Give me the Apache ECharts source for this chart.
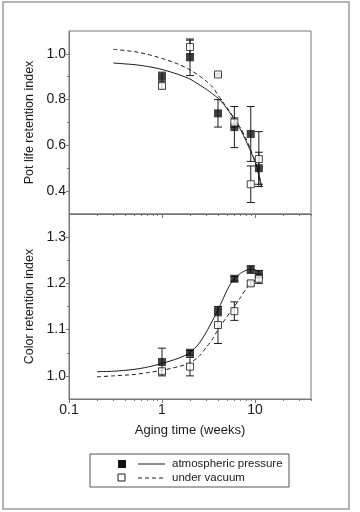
<!DOCTYPE html>
<html>
<head>
<meta charset="utf-8">
<title>Retention index vs aging time</title>
<script src="https://cdn.jsdelivr.net/npm/echarts@6/dist/echarts.min.js"></script>
<style>
  html, body { margin: 0; padding: 0; background: #fff; }
  #chart { width: 360px; height: 512px; }
</style>
</head>
<body>
<div id="chart"></div>
<script>
    // measured points (weeks of aging)
    var weeks = [1, 2, 4, 6, 9, 11];
    var potAtm = [0.90, 0.985, 0.74, 0.68, 0.65, 0.50];
    var potAtmErr = [0.02, 0.08, 0.06, 0.09, 0.12, 0.07];
    var potVac = [0.86, 1.03, 0.91, 0.70, 0.43, 0.54];
    var potVacErr = [0.01, 0.03, 0.005, 0.02, 0.08, 0.12];
    var colorAtm = [1.03, 1.05, 1.14, 1.21, 1.23, 1.22];
    var colorAtmErr = [0.03, 0.005, 0.01, 0.005, 0.008, 0.008];
    var colorVac = [1.01, 1.02, 1.11, 1.14, 1.20, 1.21];
    var colorVacErr = [0.005, 0.02, 0.04, 0.02, 0.005, 0.01];

    // fitted curves
    var potFitWeeks = [0.3, 0.5, 0.7, 1, 1.5, 2, 2.5, 3, 3.5, 4, 4.5, 5, 6, 7, 8, 9, 10, 11, 11.8];
    var potAtmFit = [0.96, 0.953, 0.945, 0.932, 0.91, 0.89, 0.866, 0.845, 0.825, 0.806, 0.785, 0.76, 0.715, 0.668, 0.62, 0.572, 0.53, 0.475, 0.42];
    var potVacFit = [1.02, 1.01, 0.998, 0.98, 0.955, 0.93, 0.905, 0.88, 0.855, 0.82, 0.79, 0.765, 0.717, 0.675, 0.63, 0.58, 0.53, 0.47, 0.41];
    var colorFitWeeks = [0.2, 0.3, 0.5, 0.7, 1, 1.5, 2, 2.5, 3, 3.5, 4, 4.5, 5, 5.5, 6, 7, 8, 9, 10, 11];
    var colorAtmFit = [1.009, 1.01, 1.014, 1.019, 1.027, 1.038, 1.05, 1.07, 1.095, 1.12, 1.143, 1.165, 1.185, 1.2, 1.21, 1.222, 1.228, 1.23, 1.229, 1.226];
    var colorVacFit = [0.998, 1.0, 1.003, 1.007, 1.012, 1.02, 1.028, 1.042, 1.062, 1.08, 1.10, 1.115, 1.128, 1.14, 1.15, 1.17, 1.188, 1.20, 1.207, 1.212];

    // ticks
    var xMajorTicks = [0.1, 1, 10];
    var xMinorTicks = [0.2, 0.3, 0.4, 0.5, 0.6, 0.7, 0.8, 0.9, 2, 3, 4, 5, 6, 7, 8, 9, 20, 30, 40];
    var potTicks = [0.4, 0.6, 0.8, 1.0];
    var potMinorTicks = [0.5, 0.7, 0.9];
    var colorTicks = [1.0, 1.1, 1.2, 1.3];
    var colorMinorTicks = [1.05, 1.15, 1.25];

    var FONT = 'Liberation Sans, Arial, sans-serif';
    var AXIS_COLOR = '#777';
    var INK = '#1a1a1a';

    function pairs(xs, ys) {
        var out = [];
        for (var i = 0; i < xs.length; i++) out.push([xs[i], ys[i]]);
        return out;
    }
    function triples(xs, ys, es) {
        var out = [];
        for (var i = 0; i < xs.length; i++) out.push([xs[i], ys[i], es[i]]);
        return out;
    }

    function errRender(params, api) {
        var x = api.value(0), y = api.value(1), e = api.value(2);
        var top = api.coord([x, y + e]);
        var bot = api.coord([x, y - e]);
        var w = 4;
        var st = { stroke: INK, lineWidth: 1 };
        return {
            type: 'group',
            children: [
                { type: 'line', shape: { x1: top[0], y1: top[1], x2: bot[0], y2: bot[1] }, style: st },
                { type: 'line', shape: { x1: top[0] - w, y1: top[1], x2: top[0] + w, y2: top[1] }, style: st },
                { type: 'line', shape: { x1: bot[0] - w, y1: bot[1], x2: bot[0] + w, y2: bot[1] }, style: st }
            ]
        };
    }

    function xAxisMain(grid, showLabel, name) {
        return {
            type: 'log', logBase: 10, gridIndex: grid, min: 0.1, max: 40,
            position: 'bottom',
            name: name || '', nameLocation: 'middle', nameGap: 25,
            nameTextStyle: { fontFamily: FONT, fontSize: 13, color: INK },
            axisLine: { show: true, lineStyle: { color: AXIS_COLOR, width: 1 } },
            axisTick: { show: true, inside: false, length: 4, customValues: xMajorTicks,
                        lineStyle: { color: AXIS_COLOR } },
            axisLabel: { show: showLabel, customValues: xMajorTicks, margin: 4,
                         fontFamily: FONT, fontSize: 14, color: INK,
                         formatter: function (v) { return String(v); } },
            splitLine: { show: false }, minorTick: { show: false }
        };
    }
    function xAxisMinor(grid) {
        return {
            type: 'log', logBase: 10, gridIndex: grid, min: 0.1, max: 40,
            position: 'bottom',
            axisLine: { show: false },
            axisTick: { show: true, inside: false, length: 2, customValues: xMinorTicks,
                        lineStyle: { color: AXIS_COLOR } },
            axisLabel: { show: false },
            splitLine: { show: false }
        };
    }
    function yAxisMain(grid, min, max, ticks, name) {
        return {
            type: 'value', gridIndex: grid, min: min, max: max, position: 'left',
            name: name, nameLocation: 'middle', nameGap: 28,
            nameTextStyle: { fontFamily: FONT, fontSize: 12.5, color: INK },
            axisLine: { show: true, lineStyle: { color: AXIS_COLOR, width: 1 } },
            axisTick: { show: true, inside: false, length: 3, customValues: ticks,
                        lineStyle: { color: AXIS_COLOR } },
            axisLabel: { show: true, customValues: ticks, margin: 3,
                         fontFamily: FONT, fontSize: 14, color: INK,
                         formatter: function (v) { return v.toFixed(1); } },
            splitLine: { show: false }
        };
    }
    function yAxisMinor(grid, min, max, ticks) {
        return {
            type: 'value', gridIndex: grid, min: min, max: max, position: 'left',
            axisLine: { show: false },
            axisTick: { show: true, inside: false, length: 2, customValues: ticks,
                        lineStyle: { color: AXIS_COLOR } },
            axisLabel: { show: false },
            splitLine: { show: false }
        };
    }

    function fitLine(x, y, data, dashed) {
        return {
            type: 'line', xAxisIndex: x, yAxisIndex: y, data: data,
            smooth: 0.25, symbol: 'none', silent: true,
            lineStyle: { color: INK, width: 1, type: dashed ? [4, 3] : 'solid' },
            z: 2
        };
    }
    function errSeries(x, y, data) {
        return { type: 'custom', xAxisIndex: x, yAxisIndex: y, data: data,
                 renderItem: errRender, silent: true, z: 3 };
    }
    function marks(x, y, data, open) {
        return {
            type: 'scatter', xAxisIndex: x, yAxisIndex: y, data: data,
            symbol: 'rect', symbolSize: open ? 7 : 8, silent: true, z: 4,
            itemStyle: open ? { color: '#fff', borderColor: INK, borderWidth: 1 }
                            : { color: '#111', borderColor: '#111', borderWidth: 0 }
        };
    }

    var option = {
        backgroundColor: '#fff',
        animation: false,
        grid: [
            { left: 69, top: 31, width: 242, height: 183, show: true,
              borderColor: AXIS_COLOR, borderWidth: 1, backgroundColor: 'transparent' },
            { left: 69, top: 214, width: 242, height: 185, show: true,
              borderColor: AXIS_COLOR, borderWidth: 1, backgroundColor: 'transparent' }
        ],
        xAxis: [
            xAxisMain(0, false),
            xAxisMinor(0),
            xAxisMain(1, true, 'Aging time (weeks)'),
            xAxisMinor(1)
        ],
        yAxis: [
            yAxisMain(0, 0.3, 1.1, potTicks, 'Pot life retention index'),
            yAxisMinor(0, 0.3, 1.1, potMinorTicks),
            yAxisMain(1, 0.95, 1.35, colorTicks, 'Color retention index'),
            yAxisMinor(1, 0.95, 1.35, colorMinorTicks)
        ],
        graphic: [
            { type: 'rect', shape: { x: 3, y: 2, width: 346, height: 507 },
              style: { fill: 'none', stroke: '#9a9a9a', lineWidth: 1.5 }, silent: true },
            { type: 'rect', shape: { x: 90, y: 454, width: 199, height: 33 },
              style: { fill: '#fff', stroke: '#555', lineWidth: 1 }, silent: true },
            { type: 'rect', shape: { x: 118, y: 460, width: 8, height: 8 },
              style: { fill: '#111' }, silent: true },
            { type: 'rect', shape: { x: 118, y: 474, width: 7, height: 7 },
              style: { fill: '#fff', stroke: INK, lineWidth: 1 }, silent: true },
            { type: 'line', shape: { x1: 138, y1: 464, x2: 165, y2: 464 },
              style: { stroke: INK, lineWidth: 1 }, silent: true },
            { type: 'line', shape: { x1: 138, y1: 478, x2: 165, y2: 478 },
              style: { stroke: INK, lineWidth: 1, lineDash: [4, 3] }, silent: true },
            { type: 'text', x: 172, y: 464,
              style: { text: 'atmospheric pressure', fill: INK, font: '11.5px ' + FONT,
                       textVerticalAlign: 'middle' }, silent: true },
            { type: 'text', x: 172, y: 478,
              style: { text: 'under vacuum', fill: INK, font: '11.5px ' + FONT,
                       textVerticalAlign: 'middle' }, silent: true }
        ],
        series: [
            fitLine(0, 0, pairs(potFitWeeks, potAtmFit), false),
            fitLine(0, 0, pairs(potFitWeeks, potVacFit), true),
            errSeries(0, 0, triples(weeks, potAtm, potAtmErr)),
            errSeries(0, 0, triples(weeks, potVac, potVacErr)),
            marks(0, 0, pairs(weeks, potAtm), false),
            marks(0, 0, pairs(weeks, potVac), true),

            fitLine(2, 2, pairs(colorFitWeeks, colorAtmFit), false),
            fitLine(2, 2, pairs(colorFitWeeks, colorVacFit), true),
            errSeries(2, 2, triples(weeks, colorAtm, colorAtmErr)),
            errSeries(2, 2, triples(weeks, colorVac, colorVacErr)),
            marks(2, 2, pairs(weeks, colorAtm), false),
            marks(2, 2, pairs(weeks, colorVac), true)
        ]
    };

    var myChart = echarts.init(document.getElementById('chart'));
    myChart.setOption(option);
</script>
</body>
</html>
